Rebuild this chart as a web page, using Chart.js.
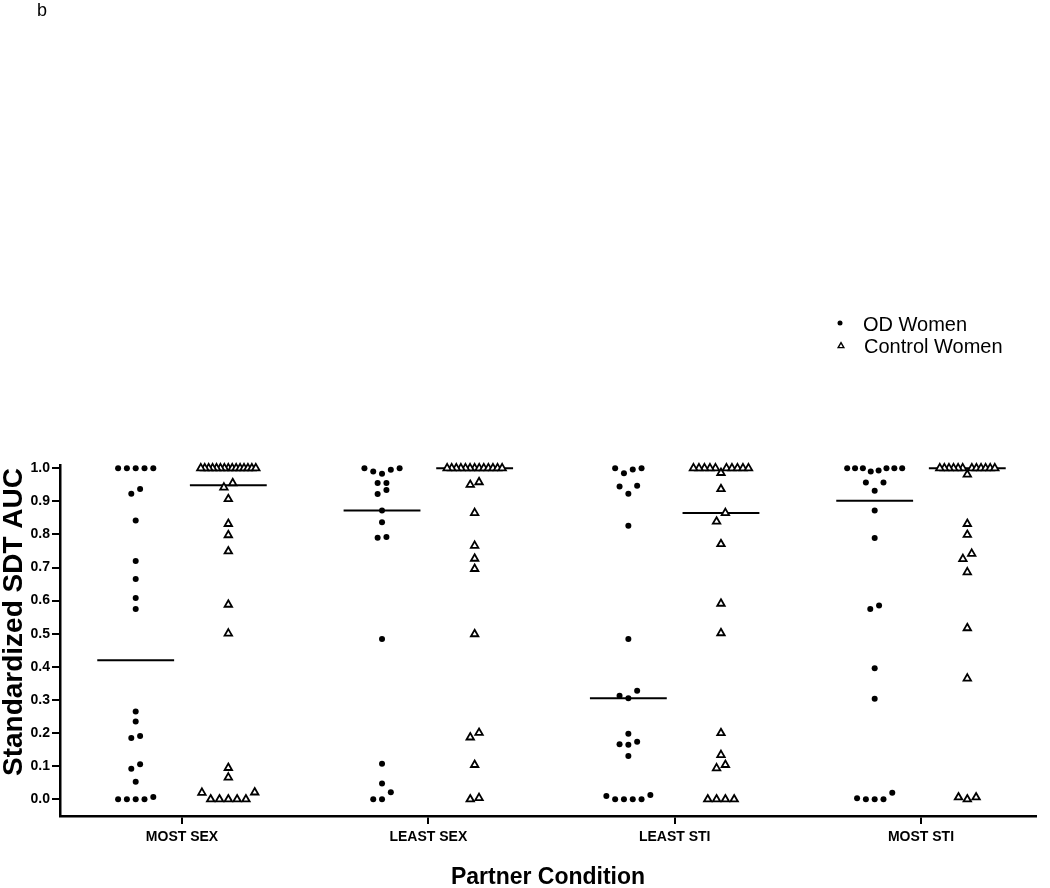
<!DOCTYPE html>
<html>
<head>
<meta charset="utf-8">
<script src="https://cdn.jsdelivr.net/npm/chart.js@4.4.1/dist/chart.umd.min.js"></script>
<style>
  html, body { margin: 0; padding: 0; background: #ffffff; }
  #wrap { width: 1050px; height: 888px; position: relative; }
</style>
</head>
<body>
<div id="wrap"><canvas id="c" width="1050" height="888"></canvas></div>
<script>
// ---------- data ----------
const categories = ['MOST SEX', 'LEAST SEX', 'LEAST STI', 'MOST STI'];
const seriesNames = ['OD Women', 'Control Women'];
const yTickValues = [0.0, 0.1, 0.2, 0.3, 0.4, 0.5, 0.6, 0.7, 0.8, 0.9, 1.0];

const odMostSex = [1, 1, 1, 1, 1, 0.937, 0.923, 0.842, 0.720, 0.665, 0.608, 0.575,
  0.265, 0.235, 0.191, 0.185, 0.106, 0.092, 0.053, 0.007, 0, 0, 0, 0];
const odLeastSex = [1, 1, 0.995, 0.990, 0.983, 0.955, 0.955, 0.934, 0.922, 0.872,
  0.837, 0.792, 0.790, 0.484, 0.107, 0.048, 0.021, 0, 0];
const odLeastSti = [1, 1, 0.996, 0.985, 0.947, 0.945, 0.923, 0.826, 0.484, 0.328,
  0.313, 0.305, 0.198, 0.174, 0.166, 0.165, 0.131, 0.013, 0.010, 0, 0, 0, 0];
const odMostSti = [1, 1, 1, 1, 1, 1, 0.993, 0.990, 0.957, 0.957, 0.932, 0.872,
  0.789, 0.585, 0.575, 0.396, 0.304, 0.020, 0.003, 0, 0, 0];

const ctrlMostSex = [1, 1, 1, 1, 1, 1, 1, 1, 1, 1, 1, 1, 1, 1, 1, 0.955, 0.942, 0.907,
  0.832, 0.798, 0.749, 0.588, 0.501, 0.095, 0.066, 0.021, 0.020, 0, 0, 0, 0, 0];
const ctrlLeastSex = [1, 1, 1, 1, 1, 1, 1, 1, 1, 1, 1, 1, 1, 0.958, 0.950, 0.865,
  0.766, 0.727, 0.696, 0.499, 0.201, 0.187, 0.104, 0.004, 0];
const ctrlLeastSti = [1, 1, 1, 1, 1, 1, 1, 1, 1, 1, 0.986, 0.937, 0.865, 0.839,
  0.771, 0.591, 0.502, 0.200, 0.134, 0.104, 0.094, 0, 0, 0, 0];
const ctrlMostSti = [1, 1, 1, 1, 1, 1, 1, 1, 1, 1, 1, 1, 0.981, 0.832, 0.799,
  0.742, 0.726, 0.686, 0.517, 0.365, 0.006, 0.006, 0];

const odGroups = [odMostSex, odLeastSex, odLeastSti, odMostSti];
const ctrlGroups = [ctrlMostSex, ctrlLeastSex, ctrlLeastSti, ctrlMostSti];

// ---------- layout constants ----------
const PX_PER_X = 246.33;            // px per category unit
const GROUP_OFFSET = 0.188;         // column offset from category tick
const STEP = 8.8 / PX_PER_X;        // horizontal spacing between neighbours
const MAX_SPAN = 55 / PX_PER_X;     // widest row
const ROW_TOL = 0.027;              // values closer than this share a row
const MEDIAN_HALF = 0.156;          // half-width of median bar

function median(arr) {
  const s = arr.slice().sort((a, b) => a - b);
  const n = s.length;
  return n % 2 ? s[(n - 1) / 2] : (s[n / 2 - 1] + s[n / 2]) / 2;
}

// column-scatter rows, lowest values toward the centre
function swarm(values, center) {
  const sorted = values.slice().sort((a, b) => a - b);
  const rows = [];
  sorted.forEach(v => {
    const r = rows[rows.length - 1];
    if (r && v - r[0] <= ROW_TOL) r.push(v); else rows.push([v]);
  });
  const pts = [];
  rows.forEach(r => {
    const n = r.length;
    const step = n > 1 ? Math.min(STEP, MAX_SPAN / (n - 1)) : 0;
    const slots = [];
    for (let i = 0; i < n; i++) slots.push((i - (n - 1) / 2) * step);
    slots.sort((a, b) => (Math.abs(a) - Math.abs(b)) || (a - b));
    r.forEach((v, i) => pts.push({ x: center + slots[i], y: v }));
  });
  return pts;
}

const odPoints = [];
const ctrlPoints = [];
const medianSets = [];
categories.forEach((cat, i) => {
  const cOd = i - GROUP_OFFSET, cCt = i + GROUP_OFFSET;
  odPoints.push(...swarm(odGroups[i], cOd));
  ctrlPoints.push(...swarm(ctrlGroups[i], cCt));
  [[cOd, odGroups[i]], [cCt, ctrlGroups[i]]].forEach(([c, vals]) => {
    const m = median(vals);
    medianSets.push({
      type: 'line', label: 'median', data: [{ x: c - MEDIAN_HALF, y: m }, { x: c + MEDIAN_HALF, y: m }],
      borderColor: '#000', borderWidth: 2, pointRadius: 0, showLine: true, fill: false, clip: false
    });
  });
});

const FONT = "'Liberation Sans', Arial, Helvetica, sans-serif";

const extras = {
  id: 'extras',
  afterDraw(chart) {
    const ctx = chart.ctx;
    ctx.save();
    ctx.fillStyle = '#000';
    ctx.strokeStyle = '#000';
    // panel letter
    ctx.font = "18px " + FONT;
    ctx.textAlign = 'left';
    ctx.textBaseline = 'alphabetic';
    ctx.fillText('b', 37, 16);
    // y axis title
    ctx.save();
    ctx.translate(22, 622);
    ctx.rotate(-Math.PI / 2);
    ctx.font = "bold 28px " + FONT;
    ctx.textAlign = 'center';
    ctx.textBaseline = 'alphabetic';
    ctx.fillText('Standardized SDT AUC', 0, 0);
    ctx.restore();
    // legend
    ctx.beginPath();
    ctx.arc(840, 323, 2.5, 0, Math.PI * 2);
    ctx.fill();
    const tx = 841, ty = 346, tr = 3.3;
    ctx.beginPath();
    ctx.moveTo(tx, ty - tr);
    ctx.lineTo(tx + tr * Math.sin(2 * Math.PI / 3), ty - tr * Math.cos(2 * Math.PI / 3));
    ctx.lineTo(tx + tr * Math.sin(4 * Math.PI / 3), ty - tr * Math.cos(4 * Math.PI / 3));
    ctx.closePath();
    ctx.lineWidth = 1.4;
    ctx.stroke();
    ctx.font = "20px " + FONT;
    ctx.textAlign = 'left';
    ctx.fillText(seriesNames[0], 863, 331);
    ctx.fillText(seriesNames[1], 864, 353);
    ctx.restore();
  }
};

new Chart(document.getElementById('c'), {
  type: 'scatter',
  data: {
    datasets: [
      { label: seriesNames[0], data: odPoints, pointStyle: 'circle', pointRadius: 3,
        backgroundColor: '#000', borderColor: '#000', borderWidth: 0, clip: false },
      { label: seriesNames[1], data: ctrlPoints, pointStyle: 'triangle', pointRadius: 4.3,
        backgroundColor: '#fff', borderColor: '#000', borderWidth: 1.8, clip: false },
      ...medianSets
    ]
  },
  options: {
    responsive: false,
    animation: false,
    devicePixelRatio: 1,
    layout: { padding: { top: 465, right: 14, left: 0, bottom: 0 } },
    plugins: { legend: { display: false }, tooltip: { enabled: false } },
    scales: {
      x: {
        type: 'linear', min: -0.4953, max: 3.4669,
        afterBuildTicks: s => { s.ticks = categories.map((_, i) => ({ value: i })); },
        afterFit: s => { s.height = 72; },
        ticks: {
          callback: (v, i) => categories[i], color: '#000', padding: 5,
          maxRotation: 0, autoSkip: false, font: { family: FONT, size: 14, weight: 'bold' }
        },
        grid: { drawOnChartArea: false, drawTicks: true, tickLength: 8, color: '#000', lineWidth: 2 },
        border: { color: '#000', width: 2.5 },
        title: { display: true, text: 'Partner Condition', color: '#000', padding: 0,
          font: { family: FONT, size: 23, weight: 'bold', lineHeight: 0.9 } }
      },
      y: {
        type: 'linear', min: -0.0505, max: 1.0097,
        afterBuildTicks: s => { s.ticks = yTickValues.map(v => ({ value: v })); },
        afterFit: s => { s.width = 60; },
        ticks: {
          callback: v => Number(v).toFixed(1), color: '#000', padding: 2,
          font: { family: FONT, size: 14, weight: 'bold' }
        },
        grid: { drawOnChartArea: false, drawTicks: true, tickLength: 8, color: '#000', lineWidth: 2 },
        border: { color: '#000', width: 2.5 },
        title: { display: false }
      }
    }
  },
  plugins: [extras]
});
</script>
</body>
</html>
